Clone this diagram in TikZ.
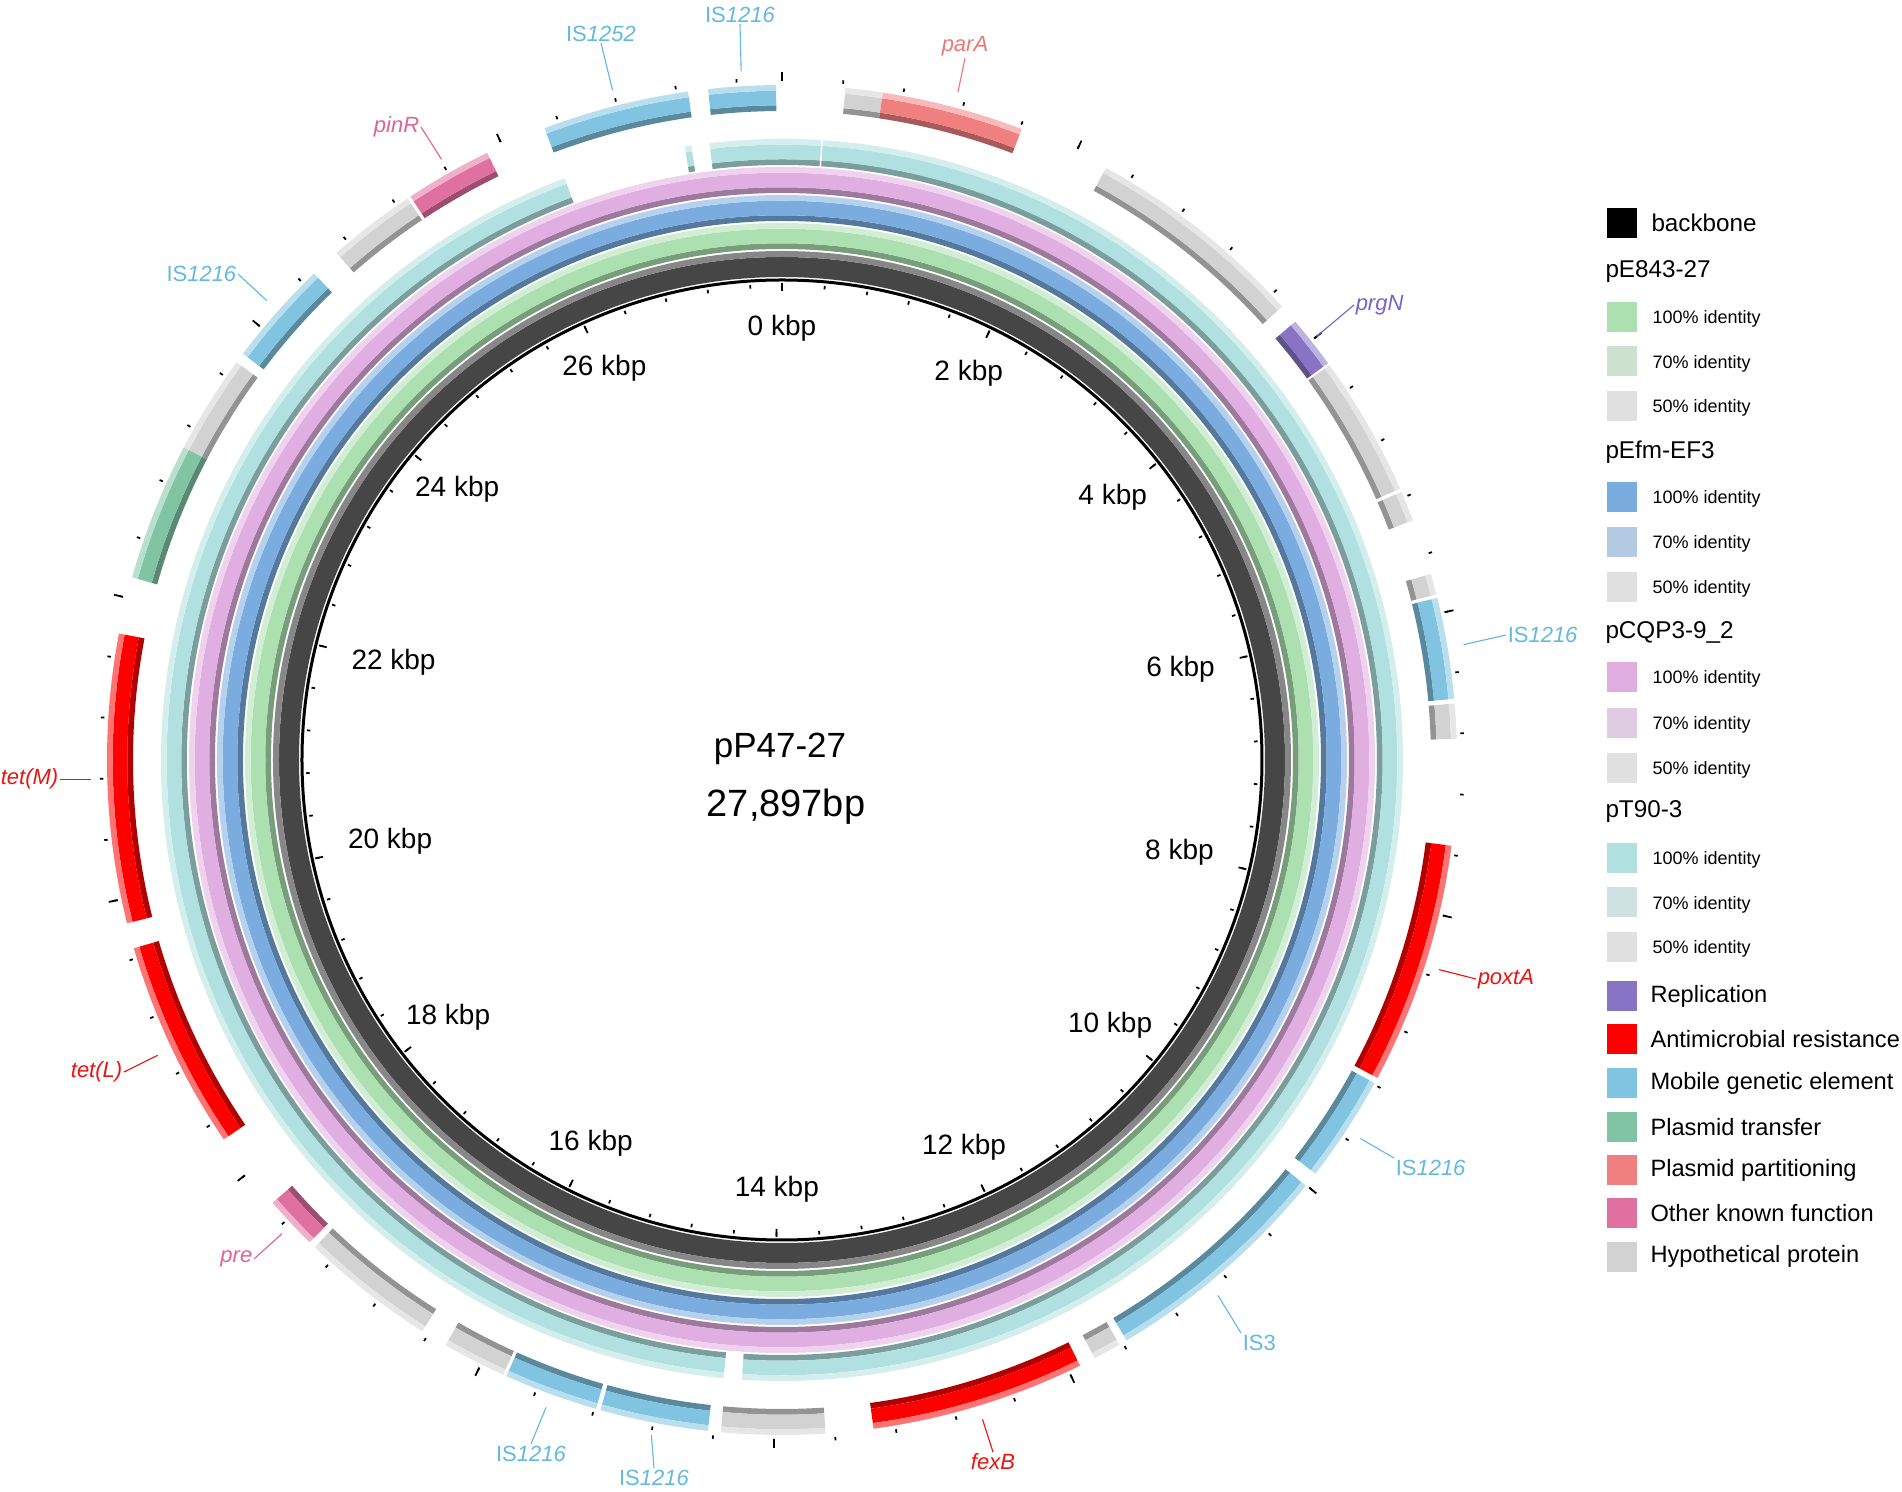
\documentclass[tikz,border=0pt]{standalone}
\usepackage{fontspec}
\setmainfont{Liberation Sans}
\definecolor{bbdark}{RGB}{70,70,70}
\definecolor{bblight}{RGB}{135,135,135}
\definecolor{grn}{RGB}{172,224,176}
\definecolor{blu}{RGB}{122,172,224}
\definecolor{pur}{RGB}{224,174,224}
\definecolor{tea}{RGB}{176,224,224}
\definecolor{grn70}{RGB}{204,226,206}
\definecolor{blu70}{RGB}{180,202,226}
\definecolor{pur70}{RGB}{224,204,226}
\definecolor{tea70}{RGB}{206,226,226}
\definecolor{id50}{RGB}{224,224,224}
\definecolor{rep}{RGB}{136,116,196}
\definecolor{amr}{RGB}{255,0,0}
\definecolor{mge}{RGB}{128,196,226}
\definecolor{trans}{RGB}{128,196,164}
\definecolor{part}{RGB}{240,128,128}
\definecolor{oth}{RGB}{224,112,160}
\definecolor{hyp}{RGB}{210,210,210}
\definecolor{lmge}{RGB}{100,185,222}
\definecolor{lred}{RGB}{235,20,20}
\definecolor{lpart}{RGB}{238,120,120}
\definecolor{lpink}{RGB}{222,100,150}
\definecolor{lrep}{RGB}{120,100,200}
\newcommand{\ringseg}[5]{%
  \fill[fill=#5] ({90-#1}:#4) arc[start angle={90-#1}, end angle={90-#2}, radius=#4]
    -- ({90-#2}:#3) arc[start angle={90-#2}, end angle={90-#1}, radius=#3] -- cycle;}
\newcommand{\ringband}[5]{%
  \pgfmathsetmacro\rlo{#3+0.22*(#4-#3)}%
  \pgfmathsetmacro\rhi{#4-0.22*(#4-#3)}%
  \ringseg{#1}{#2}{#3}{\rlo}{#5!70!black}%
  \ringseg{#1}{#2}{\rlo}{\rhi}{#5}%
  \ringseg{#1}{#2}{\rhi}{#4}{#5!55!white}}
\begin{document}
\begin{tikzpicture}[x=0.4pt, y=0.4pt,
  kb/.style={font=\fontsize{11.2}{13}\selectfont, inner sep=0pt},
  lbl/.style={font=\fontsize{8.8}{10}\selectfont, inner sep=0.5pt},
  legsq/.style={minimum width=12pt, minimum height=12pt, inner sep=0pt},
  legh/.style={font=\fontsize{9.7}{11}\selectfont, anchor=west, inner sep=0pt},
  legid/.style={font=\fontsize{7.2}{9}\selectfont, anchor=west, inner sep=0pt},
  legc/.style={font=\fontsize{9.45}{11}\selectfont, anchor=west, inner sep=0pt},
  sctick/.style={line width=0.7pt}]
\fill[white] (-782,-732) rectangle (1120,760);
\useasboundingbox (-782,-732) rectangle (1120,760);

% rings
\ringseg{0}{360}{483}{503}{bbdark}
\ringseg{0}{360}{503}{509}{bblight}
\ringband{0}{360}{511}{537}{grn}
\ringband{0}{360}{539}{565}{blu}
\ringband{0}{360}{567}{593}{pur}
\ringband{353.3}{543.7}{595}{621}{tea}
\ringband{185.4}{339.5}{595}{621}{tea}
\ringband{351.0}{351.6}{595}{621}{tea}
\draw[white, line width=0.6pt] (86.3:594) -- (86.3:622);

% genes
\foreach \a/\b/\c in {5.4/8.6/hyp, 8.6/20.8/part, 28.7/47.8/hyp, 49.5/54.0/rep,
  54.2/66.3/hyp, 66.6/69.2/hyp, 74.0/75.8/hyp, 76.1/84.8/mge, 85.2/88.2/hyp,
  97.3/118.1/amr, 118.6/127.8/mge, 129.1/149.3/mge, 150.0/152.4/hyp,
  153.8/172.2/amr, 176.3/185.2/hyp, 186.3/195.6/mge, 196.0/204.1/mge,
  204.4/209.9/hyp, 212.2/223.8/hyp, 224.4/229.0/oth, 235.8/253.8/amr,
  256.0/280.8/amr, 285.7/297.6/trans, 297.6/306.1/hyp, 307.0/316.1/mge,
  318.7/326.3/hyp, 326.6/334.1/oth, 339.4/352.0/mge, 353.7/359.5/mge}
  {\ringband{\a}{\b}{649}{675}{\c}}

% scale
\draw[line width=1.2pt] (0,0) circle[radius=480];
\foreach \i in {0,...,69} {
  \draw[sctick] ({90-\i*5.16185}:476) -- ({90-\i*5.16185}:472.5);
  \draw[sctick] ({90-\i*5.16185}:679) -- ({90-\i*5.16185}:682.5);}
\foreach \i in {0,5,...,65} {
  \draw[sctick] ({90-\i*5.16185}:477) -- ({90-\i*5.16185}:469);
  \draw[sctick] ({90-\i*5.16185}:679) -- ({90-\i*5.16185}:688);}
\foreach \k in {0,2,...,26} {
  \pgfmathsetmacro\p{90-\k*12.90461}
  \node[kb, anchor=\p] (k\k) at ({444*cos(\p)},{1+444*sin(\p)}) {\k\ kbp};}

\node[font=\fontsize{14}{16}\selectfont, anchor=base, inner sep=0pt] (pname) at (-2,2) {pP47-27};
\node[font=\fontsize{15.2}{17}\selectfont, anchor=base, inner sep=0pt] (plen) at (4,-57) {27,897bp};

% gene labels
\foreach \cx/\cy/\nx/\ny/\an/\col/\nm/\txt in {
  176/668/183/702/south/lpart/lparA/\textit{parA},
  534.7/423.6/572/455/west/lrep/lprgN/\textit{prgN},
  681.5/115.3/724/125/west/lmge/lis1/IS\textit{1216},
  657/-209.6/694/-219/west/lred/lpoxtA/\textit{poxtA},
  578.4/-378.5/612/-398/north west/lmge/lis2/IS\textit{1216},
  436/-535.5/459/-573/north west/lmge/lis3/IS3,
  200.5/-659.3/211/-692/north/lred/lfexB/\textit{fexB},
  -130.6/-675/-128/-708/north/lmge/lis4/IS\textit{1216},
  -236/-647.4/-251/-684/north/lmge/lis5/IS\textit{1216},
  -500/-473.7/-528/-499/east/lpink/lpre/\textit{pre},
  -624.3/-295.3/-658/-312/east/lred/ltetL/\textit{tet(L)},
  -691/-19.3/-722/-19.3/east/lred/ltetM/\textit{tet(M)},
  -515.1/459.3/-544/486/east/lmge/lis6/IS\textit{1216},
  -340.5/600.6/-361/633/east/lpink/lpinR/\textit{pinR},
  -169.4/669.6/-181/717/south/lmge/lis7/IS\textit{1252},
  -40.8/688.6/-42/736/south/lmge/lis8/IS\textit{1216}}
{\coordinate (c\nm) at (\cx,\cy);
 \node[lbl, text=\col, anchor=\an] (\nm) at (\nx,\ny) {\txt};
 \draw[color=\col, line width=0.45pt] (c\nm) -- (\nm.\an);}

% legend
\node[legsq, fill=black] (bsq) at (840,537) {};
\node[legh] (btx) at (869,537) {backbone};
\foreach \y/\t [count=\n] in {491/pE843-27, 311/pEfm-EF3, 130.5/pCQP3-9\_2, -49/pT90-3}
  \node[legh] (hd\n) at (823,\y-3) {\t};
\foreach \y/\c/\t [count=\n] in {443.4/grn/100, 398.5/grn70/70, 354/id50/50,
  263/blu/100, 218/blu70/70, 173/id50/50, 83/pur/100, 37/pur70/70, -8/id50/50,
  -97.6/tea/100, -142.5/tea70/70, -187/id50/50}
 {\node[legsq, fill=\c] (isq\n) at (840,\y) {};
  \node[legid] (itx\n) at (870,\y-2) {\t\% identity};}
\foreach \y/\c/\t [count=\n] in {-236/rep/Replication, -279.5/amr/Antimicrobial resistance,
  -323/mge/Mobile genetic element, -367/trans/Plasmid transfer,
  -410.5/part/Plasmid partitioning, -453/oth/Other known function,
  -496.7/hyp/Hypothetical protein}
 {\node[legsq, fill=\c] (csq\n) at (840,\y) {};
  \node[legc] (ctx\n) at (868,\y) {\t};}
\end{tikzpicture}
\end{document}
